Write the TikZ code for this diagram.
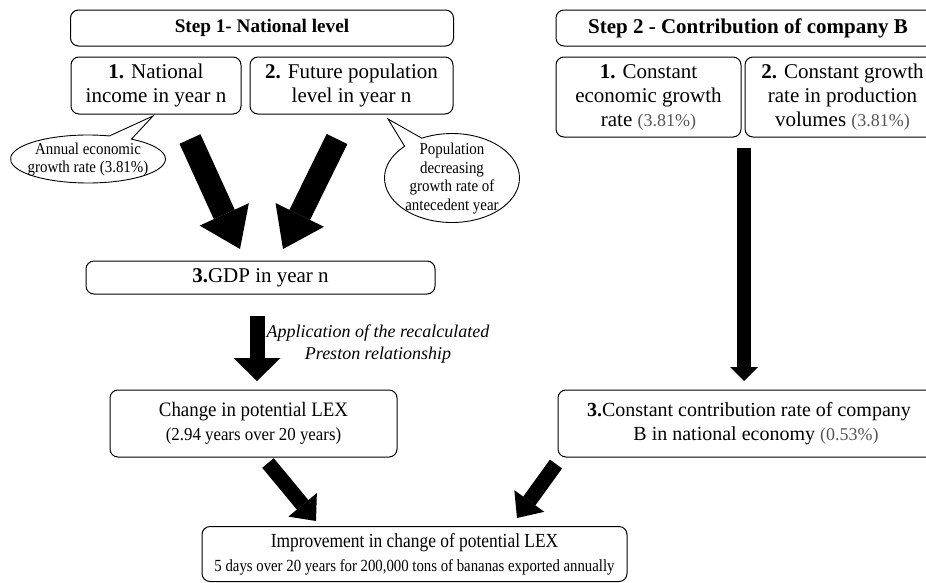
\documentclass[tikz,border=0pt]{standalone}
\usepackage{fontspec}
\setmainfont{Liberation Serif}
\newfontfamily\condA{Liberation Serif}[FakeStretch=0.87]
\newfontfamily\condB{Liberation Serif}[FakeStretch=0.92]
\newfontfamily\condC{Liberation Serif}[FakeStretch=0.9]
\usetikzlibrary{arrows.meta,shapes.callouts}
\definecolor{pgray}{HTML}{555555}
\newcommand{\pgr}[1]{{\color{pgray}\fontsize{18}{24}\selectfont #1}}
\newcommand{\fixtext}[1]{\makebox[0pt]{\smash{\raisebox{-0.3em}{\begin{tabular}{@{}c@{}}#1\end{tabular}}}}}
\begin{document}
\begin{tikzpicture}[x=1pt,y=-1pt,
  box/.style={draw, rounded corners=8pt, line width=1pt, align=center, inner sep=0pt,
    font=\fontsize{21}{24}\selectfont},
  head/.style={box, font=\fontsize{20}{24}\selectfont\bfseries},
  bubble/.style={ellipse callout, draw, fill=white, line width=0.9pt, inner sep=0pt,
    font=\condC\fontsize{16.6}{18.7}\selectfont, callout pointer arc=18},
  bigarrow/.style={line width=23pt, -{Triangle[length=38pt,width=54pt,line width=0pt]}},
  medarrow/.style={line width=15pt, -{Triangle[length=23pt,width=47pt,line width=0pt]}},
  longarrow/.style={line width=14pt, -{Triangle[length=14pt,width=28pt,line width=0pt]}},
  lowarrow/.style={line width=15pt, -{Triangle[length=21pt,width=37pt,line width=0pt]}}
]
\useasboundingbox (0,0) rectangle (926,582);
\clip (0,0) rectangle (926,582);

% Step 1
\node[head, font=\fontsize{19.2}{24}\selectfont\bfseries, minimum width=383pt, minimum height=36pt] (h1) at (262,28) {Step 1- National level};
\node[box, minimum width=170pt, minimum height=57pt] (b1) at (156,85.5) {\textbf{1.} National\\income in year n};
\node[box, minimum width=203pt, minimum height=57pt] (b2) at (351.5,85.5) {\textbf{2.} Future population\\level in year n};
\node[box, minimum width=349pt, minimum height=33pt] (gdp) at (260.5,277.5) {\textbf{3.}GDP in year n};
\node[box, minimum width=287pt, minimum height=67pt] (chg) at (253.5,423.5)
  {{\condB\fontsize{20.5}{22}\selectfont Change in potential LEX}\\{\condB\fontsize{18.3}{20}\selectfont (2.94 years over 20 years)}};

% Step 2
\node[head, font=\fontsize{21}{24}\selectfont\bfseries, minimum width=384pt, minimum height=36pt] (h2) at (748,28) {Step 2 - Contribution of company B};
\node[box, minimum width=185pt, minimum height=80pt] (s1) at (648.5,97) {\textbf{1.} Constant\\economic growth\\rate \pgr{(3.81\%)}};
\node[box, minimum width=195pt, minimum height=80pt] (s2) at (842.5,97) {\textbf{2.} Constant growth\\rate in production\\volumes \pgr{(3.81\%)}};
\node[box, font=\fontsize{20}{24}\selectfont, minimum width=382pt, minimum height=67pt] (s3) at (749,423.5)
  {\textbf{3.}Constant contribution rate of company\\\hspace*{14pt}B in national economy \pgr{(0.53\%)}};

% Final
\node[box, minimum width=425pt, minimum height=55pt] (fin) at (414.5,554)
  {{\condA\fontsize{20}{22}\selectfont Improvement in change of potential LEX}\\{\condA\fontsize{17}{19}\selectfont 5 days over 20 years for 200,000 tons of bananas exported annually}};

% Callouts
\node[bubble, minimum width=155pt, minimum height=48pt, callout absolute pointer={(153,116)}] (c1) at (88,159)
  {\fixtext{Annual economic\\growth rate (3.81\%)}};
\node[bubble, minimum width=135pt, minimum height=89pt, callout absolute pointer={(388,119)}] (c2) at (452,178)
  {\fixtext{Population\\decreasing\\growth rate of\\antecedent year}};

% Label
\node[font=\fontsize{18}{22}\selectfont\itshape, align=center, inner sep=0pt] (lab) at (378,344)
  {Application of the recalculated\\Preston relationship};

% Arrow ends
\coordinate (a1s) at (190,139);
\coordinate (a1e) at (240,249);
\coordinate (a2s) at (337,139);
\coordinate (a2e) at (283,249);
\coordinate (a3s) at (257,316);
\coordinate (a3e) at (257,381);
\coordinate (a4s) at (744,148);
\coordinate (a4e) at (744,381);
\coordinate (a5s) at (268,463);
\coordinate (a5e) at (316,521);
\coordinate (a6s) at (556,464);
\coordinate (a6e) at (517,518);

\draw[bigarrow] (a1s) -- (a1e);
\draw[bigarrow] (a2s) -- (a2e);
\draw[medarrow] (a3s) -- (a3e);
\draw[longarrow] (a4s) -- (a4e);
\draw[lowarrow] (a5s) -- (a5e);
\draw[lowarrow] (a6s) -- (a6e);
\end{tikzpicture}
\end{document}
